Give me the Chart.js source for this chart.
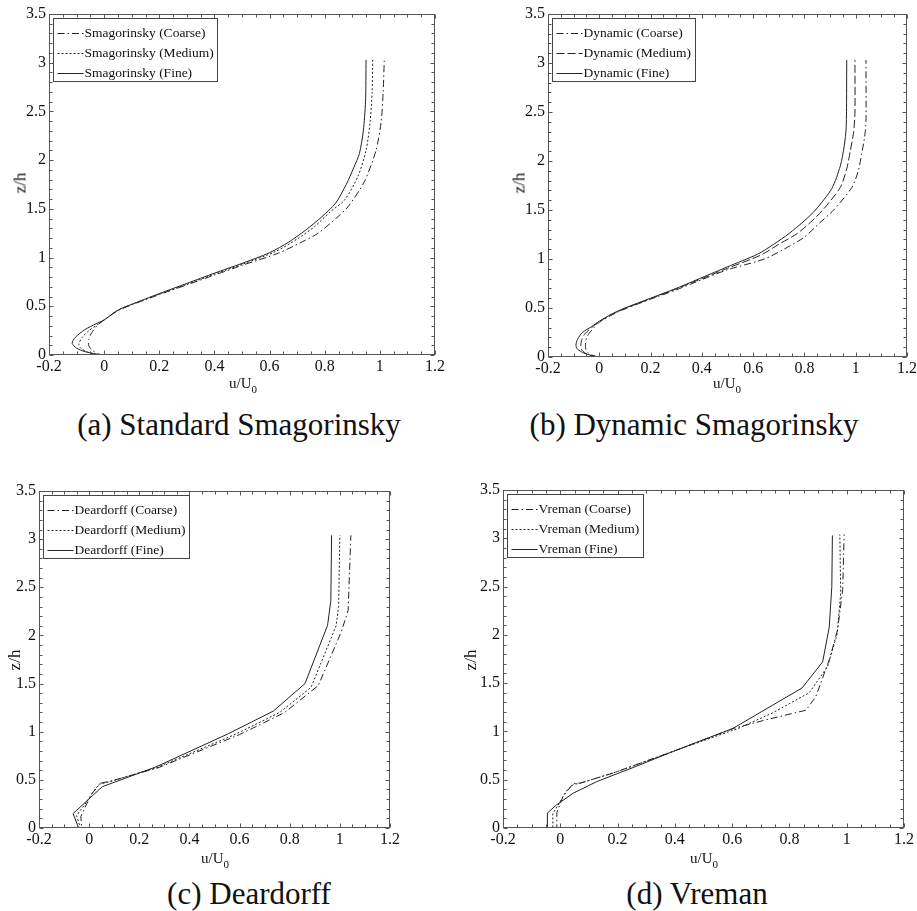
<!DOCTYPE html>
<html>
<head>
<meta charset="utf-8">
<title>Mean streamwise velocity profiles - SGS models</title>
<script src="https://cdn.jsdelivr.net/npm/chart.js@4.4.1/dist/chart.umd.min.js"></script>
<style>
  body { margin: 0; background: #fff; font-family: "Liberation Serif", "Times New Roman", serif; color: #111; }
  #page { position: relative; width: 917px; height: 911px; overflow: hidden; }
  .panel { position: absolute; }
  .axis-x, .axis-y, .caption { position: absolute; white-space: nowrap; line-height: 1; }
  .axis-x { font-size: 15px; transform: translate(-50%, 0); }
  .axis-x sub { font-size: 11px; vertical-align: -5px; }
  .axis-y { font-size: 17px; transform: translate(-50%, -50%) rotate(-90deg); }
  .caption { font-size: 31px; transform: translate(-50%, -50%); }
</style>
</head>
<body>
<div id="page">
  <div class="panel" style="left:0px;top:0px;width:447px;height:380px"><canvas id="chartA"></canvas></div>
  <div class="panel" style="left:500px;top:0px;width:419px;height:382px"><canvas id="chartB"></canvas></div>
  <div class="panel" style="left:0px;top:470px;width:402px;height:383px"><canvas id="chartC"></canvas></div>
  <div class="panel" style="left:457px;top:470px;width:459px;height:383px"><canvas id="chartD"></canvas></div>

  <div class="axis-y" style="left:20px;top:183px">z/h</div>
  <div class="axis-y" style="left:519px;top:183px">z/h</div>
  <div class="axis-y" style="left:14px;top:660px">z/h</div>
  <div class="axis-y" style="left:470px;top:660px">z/h</div>

  <div class="axis-x" style="left:243px;top:376px">u/U<sub>0</sub></div>
  <div class="axis-x" style="left:727px;top:376px">u/U<sub>0</sub></div>
  <div class="axis-x" style="left:215px;top:851px">u/U<sub>0</sub></div>
  <div class="axis-x" style="left:704px;top:851px">u/U<sub>0</sub></div>

  <div class="caption" style="left:239px;top:424px">(a) Standard Smagorinsky</div>
  <div class="caption" style="left:694px;top:424px">(b) Dynamic Smagorinsky</div>
  <div class="caption" style="left:249px;top:893px">(c) Deardorff</div>
  <div class="caption" style="left:697px;top:893px">(d) Vreman</div>
</div>

<script>
// axis ticks
const xTicks = [-0.2, 0, 0.2, 0.4, 0.6, 0.8, 1, 1.2];
const zTicks = [0, 0.5, 1, 1.5, 2, 2.5, 3, 3.5];

// (a) Standard Smagorinsky
const smagCoarseU = [0.0, -0.02, -0.044, -0.056, -0.056, -0.045, -0.026, 0.0, 0.05, 0.1, 0.2, 0.3, 0.4, 0.5, 0.632, 0.71, 0.776, 0.84, 0.884, 0.944, 0.986, 1.005, 1.012, 1.016];
const smagCoarseZ = [0.0, 0.01, 0.05, 0.1, 0.16, 0.23, 0.3, 0.36, 0.455, 0.515, 0.62, 0.72, 0.82, 0.92, 1.045, 1.15, 1.25, 1.4, 1.52, 1.78, 2.1, 2.4, 2.7, 3.03];
const smagMediumU = [0.0, -0.03, -0.06, -0.085, -0.092, -0.08, -0.055, -0.025, 0.0, 0.05, 0.1, 0.2, 0.3, 0.4, 0.5, 0.62, 0.7, 0.764, 0.82, 0.872, 0.92, 0.95, 0.965, 0.972, 0.974];
const smagMediumZ = [0.0, 0.01, 0.03, 0.07, 0.11, 0.18, 0.25, 0.31, 0.36, 0.46, 0.52, 0.625, 0.725, 0.83, 0.93, 1.06, 1.19, 1.32, 1.47, 1.59, 1.83, 2.1, 2.4, 2.7, 3.03];
const smagFineU = [0.0, -0.03, -0.07, -0.1, -0.116, -0.105, -0.07, -0.03, 0.0, 0.05, 0.1, 0.2, 0.3, 0.4, 0.5, 0.6, 0.67, 0.73, 0.79, 0.84, 0.878, 0.905, 0.926, 0.94, 0.948, 0.95];
const smagFineZ = [0.0, 0.01, 0.035, 0.07, 0.12, 0.18, 0.26, 0.32, 0.36, 0.46, 0.52, 0.63, 0.735, 0.84, 0.94, 1.05, 1.16, 1.28, 1.42, 1.56, 1.75, 1.92, 2.07, 2.3, 2.6, 3.03];

// (b) Dynamic Smagorinsky
const dynCoarseU = [-0.005, -0.025, -0.045, -0.053, -0.054, -0.05, -0.04, -0.02, 0.0, 0.05, 0.1, 0.2, 0.3, 0.4, 0.5, 0.644, 0.72, 0.798, 0.86, 0.914, 0.985, 1.01, 1.023, 1.035, 1.04, 1.04];
const dynCoarseZ = [0.0, 0.015, 0.045, 0.085, 0.13, 0.19, 0.24, 0.3, 0.355, 0.43, 0.49, 0.59, 0.685, 0.79, 0.89, 1.0, 1.1, 1.22, 1.37, 1.5, 1.73, 1.9, 2.07, 2.25, 2.4, 3.03];
const dynMediumU = [-0.005, -0.03, -0.055, -0.07, -0.072, -0.068, -0.055, -0.03, 0.0, 0.05, 0.1, 0.2, 0.3, 0.4, 0.5, 0.63, 0.7, 0.772, 0.83, 0.875, 0.94, 0.965, 0.978, 0.992, 0.997, 0.997];
const dynMediumZ = [0.0, 0.015, 0.04, 0.08, 0.12, 0.18, 0.24, 0.3, 0.36, 0.435, 0.495, 0.595, 0.695, 0.8, 0.905, 1.04, 1.15, 1.26, 1.39, 1.51, 1.73, 1.92, 2.09, 2.3, 2.5, 3.03];
const dynFineU = [-0.005, -0.03, -0.06, -0.085, -0.091, -0.085, -0.066, -0.03, 0.0, 0.05, 0.1, 0.2, 0.3, 0.4, 0.5, 0.618, 0.68, 0.74, 0.8, 0.843, 0.907, 0.94, 0.955, 0.963, 0.965];
const dynFineZ = [0.0, 0.015, 0.04, 0.08, 0.12, 0.18, 0.25, 0.31, 0.365, 0.44, 0.5, 0.6, 0.7, 0.81, 0.92, 1.05, 1.15, 1.26, 1.39, 1.5, 1.72, 1.95, 2.15, 2.35, 3.03];

// (c) Deardorff
const deaCoarseU = [0.0, -0.03, -0.033, -0.01, 0.012, 0.045, 0.09, 0.275, 0.6, 0.78, 0.914, 1.006, 1.033, 1.044];
const deaCoarseZ = [0.0, 0.0, 0.12, 0.25, 0.36, 0.465, 0.49, 0.625, 0.97, 1.2, 1.48, 2.04, 2.26, 3.04];
const deaMediumU = [0.0, -0.035, -0.05, -0.01, 0.012, 0.04, 0.08, 0.27, 0.585, 0.76, 0.885, 0.985, 0.995, 1.0];
const deaMediumZ = [0.0, 0.0, 0.13, 0.27, 0.36, 0.455, 0.48, 0.628, 0.975, 1.2, 1.46, 2.1, 2.3, 3.04];
const deaFineU = [0.0, -0.042, -0.064, 0.007, 0.053, 0.265, 0.556, 0.735, 0.861, 0.951, 0.964, 0.967];
const deaFineZ = [0.0, 0.0, 0.15, 0.32, 0.43, 0.633, 0.98, 1.215, 1.5, 2.105, 2.36, 3.04];

// (d) Vreman
const vreCoarseU = [0.0, -0.012, -0.012, 0.01, 0.045, 0.07, 0.185, 0.4, 0.603, 0.718, 0.858, 0.892, 0.94, 0.968, 0.986, 0.991];
const vreCoarseZ = [0.0, 0.0, 0.16, 0.33, 0.46, 0.465, 0.57, 0.8, 1.03, 1.12, 1.22, 1.36, 1.75, 2.05, 2.47, 3.04];
const vreMediumU = [0.0, -0.026, -0.026, -0.005, 0.02, 0.045, 0.07, 0.12, 0.2, 0.4, 0.62, 0.74, 0.869, 0.933, 0.966, 0.979, 0.976];
const vreMediumZ = [0.0, 0.0, 0.15, 0.25, 0.38, 0.45, 0.465, 0.51, 0.585, 0.8, 1.03, 1.19, 1.4, 1.67, 2.0, 2.43, 3.04];
const vreFineU = [0.0, -0.045, -0.045, -0.013, 0.045, 0.127, 0.266, 0.4, 0.602, 0.844, 0.916, 0.939, 0.948, 0.95];
const vreFineZ = [0.0, 0.0, 0.155, 0.24, 0.36, 0.48, 0.64, 0.8, 1.03, 1.45, 1.72, 2.08, 2.5, 3.03];

const FONT = '"Liberation Serif", "Times New Roman", serif';
const dashDot = [7, 3, 1.5, 3];
const dotted = [2, 2];
const dashed = [8, 3];

function pts(u, z) {
  return u.map((v, i) => ({ x: v, y: z[i] }));
}

// box round the plot with inward ticks on all four sides
const framePlugin = {
  id: 'frame',
  afterDatasetsDraw(chart) {
    const { ctx, chartArea: a, scales: { x, y } } = chart;
    const l = Math.round(a.left) + 0.5, r = Math.round(a.right) - 0.5;
    const t = Math.round(a.top) + 0.5, b = Math.round(a.bottom) - 0.5;
    ctx.save();
    ctx.strokeStyle = '#555';
    ctx.lineWidth = 1;
    ctx.beginPath();
    for (let i = 0; i < xTicks.length; i++) {
      const sub = i < xTicks.length - 1 ? 4 : 1;
      for (let k = 0; k < sub; k++) {
        const v = xTicks[i] + k * ((xTicks[i + 1] || 0) - xTicks[i]) / sub;
        const px = Math.round(x.getPixelForValue(v)) + 0.5;
        const len = k === 0 ? 4 : 3;
        ctx.moveTo(px, b); ctx.lineTo(px, b - len);
        ctx.moveTo(px, t); ctx.lineTo(px, t + len);
      }
    }
    for (let i = 0; i < zTicks.length; i++) {
      const sub = i < zTicks.length - 1 ? 5 : 1;
      for (let k = 0; k < sub; k++) {
        const v = zTicks[i] + k * ((zTicks[i + 1] || 0) - zTicks[i]) / sub;
        const py = Math.round(y.getPixelForValue(v)) + 0.5;
        const len = k === 0 ? 4 : 3;
        ctx.moveTo(l, py); ctx.lineTo(l + len, py);
        ctx.moveTo(r, py); ctx.lineTo(r - len, py);
      }
    }
    ctx.stroke();
    ctx.strokeRect(l, t, r - l, b - t);
    ctx.restore();
  }
};

// boxed legend in the upper left of the plot
const boxLegend = {
  id: 'boxLegend',
  afterDraw(chart) {
    const { ctx, chartArea: a } = chart;
    const sets = chart.data.datasets;
    ctx.save();
    ctx.font = '13.5px ' + FONT;
    let w = 0;
    sets.forEach(ds => { w = Math.max(w, ctx.measureText(ds.label).width); });
    const x0 = Math.round(a.left) + 4.5, y0 = Math.round(a.top) + 4.5;
    const bw = Math.round(31 + w + 4), bh = 63;
    ctx.fillStyle = '#fff';
    ctx.fillRect(x0, y0, bw, bh);
    ctx.strokeStyle = '#444';
    ctx.lineWidth = 1;
    ctx.setLineDash([]);
    ctx.strokeRect(x0, y0, bw, bh);
    sets.forEach((ds, i) => {
      const yy = Math.round(y0 + 14 + i * 20) + 0.5;
      ctx.strokeStyle = ds.borderColor;
      ctx.setLineDash(ds.borderDash || []);
      ctx.beginPath();
      ctx.moveTo(x0 + 4, yy);
      ctx.lineTo(x0 + 30, yy);
      ctx.stroke();
      ctx.fillStyle = '#111';
      ctx.textBaseline = 'middle';
      ctx.fillText(ds.label, x0 + 31, yy);
    });
    ctx.restore();
  }
};

function makeChart(id, frame, model, series, mediumDash, tension) {
  const names = ['Coarse', 'Medium', 'Fine'];
  const dashes = [dashDot, mediumDash, []];
  const datasets = series.map((s, i) => ({
    label: model + ' (' + names[i] + ')',
    data: pts(s[0], s[1]),
    showLine: true,
    borderColor: '#222',
    borderWidth: 1,
    borderDash: dashes[i],
    pointRadius: 0,
    tension: tension,
    fill: false
  }));
  return new Chart(document.getElementById(id), {
    type: 'scatter',
    data: { datasets },
    options: {
      responsive: true,
      maintainAspectRatio: false,
      animation: false,
      devicePixelRatio: 1,
      layout: { padding: { left: 0, top: frame.top, right: frame.right, bottom: 0 } },
      plugins: { legend: { display: false }, tooltip: { enabled: false } },
      scales: {
        x: {
          type: 'linear',
          min: -0.2,
          max: 1.2,
          afterBuildTicks: scale => { scale.ticks = xTicks.map(v => ({ value: v })); },
          afterFit: scale => { scale.height = frame.bottom; },
          grid: { display: false, drawTicks: false },
          border: { display: false },
          ticks: {
            padding: 2,
            color: '#111',
            font: { family: FONT, size: 16 },
            maxRotation: 0,
            callback: v => String(Math.round(v * 10) / 10)
          }
        },
        y: {
          type: 'linear',
          min: 0,
          max: 3.5,
          afterBuildTicks: scale => { scale.ticks = zTicks.map(v => ({ value: v })); },
          afterFit: scale => { scale.width = frame.left; },
          grid: { display: false, drawTicks: false },
          border: { display: false },
          ticks: {
            padding: 3,
            color: '#111',
            font: { family: FONT, size: 16 },
            callback: v => String(Math.round(v * 10) / 10)
          }
        }
      }
    },
    plugins: [framePlugin, boxLegend]
  });
}

makeChart('chartA', { left: 49, top: 14, right: 10, bottom: 25 }, 'Smagorinsky',
  [[smagCoarseU, smagCoarseZ], [smagMediumU, smagMediumZ], [smagFineU, smagFineZ]], dotted, 0.25);
makeChart('chartB', { left: 48, top: 14, right: 10, bottom: 25 }, 'Dynamic',
  [[dynCoarseU, dynCoarseZ], [dynMediumU, dynMediumZ], [dynFineU, dynFineZ]], dashed, 0.25);
makeChart('chartC', { left: 39, top: 21, right: 10, bottom: 25 }, 'Deardorff',
  [[deaCoarseU, deaCoarseZ], [deaMediumU, deaMediumZ], [deaFineU, deaFineZ]], dotted, 0);
makeChart('chartD', { left: 46, top: 20, right: 10, bottom: 25 }, 'Vreman',
  [[vreCoarseU, vreCoarseZ], [vreMediumU, vreMediumZ], [vreFineU, vreFineZ]], dotted, 0);
</script>
</body>
</html>
